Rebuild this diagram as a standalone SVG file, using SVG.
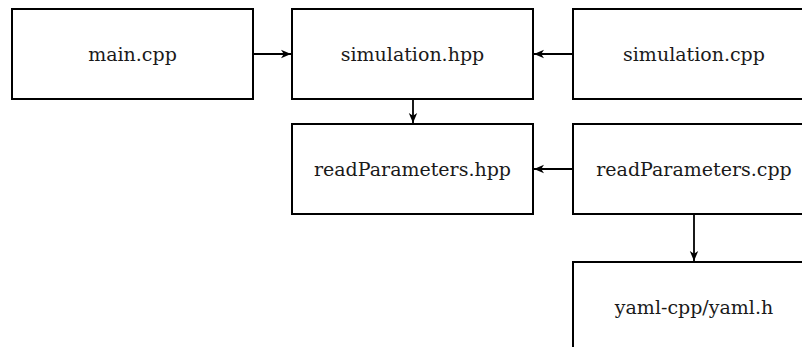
<svg xmlns="http://www.w3.org/2000/svg" width="802" height="347" viewBox="0 0 802 347">
<defs>
<style>
.box{fill:#fff;stroke:#000;stroke-width:2}
.lbl{font-family:"DejaVu Serif","Liberation Serif",serif;font-size:19px;fill:#1a1a1a;text-anchor:middle}
.edge{stroke:#000;stroke-width:1.8;fill:none;marker-end:url(#ah)}
</style>
<marker id="ah" viewBox="0 0 10 10" refX="10" refY="5" markerWidth="10" markerHeight="10" markerUnits="userSpaceOnUse" orient="auto">
<path d="M0,0.8 L10,5 L0,9.2 L2.8,5 Z" fill="#000"/>
</marker>
</defs>
<rect width="802" height="347" fill="#fff"/>
<g id="main_cpp"><rect class="box" x="12" y="9" width="241" height="90"/><text class="lbl" x="132.5" y="60.5">main.cpp</text></g>
<g id="simulation_hpp"><rect class="box" x="292" y="9" width="241" height="90"/><text class="lbl" x="412.5" y="60.5">simulation.hpp</text></g>
<g id="simulation_cpp"><rect class="box" x="573" y="9" width="242" height="90"/><text class="lbl" x="694" y="60.5">simulation.cpp</text></g>
<g id="readParameters_hpp"><rect class="box" x="292" y="124" width="241" height="90"/><text class="lbl" x="412.5" y="176">readParameters.hpp</text></g>
<g id="readParameters_cpp"><rect class="box" x="573" y="124" width="242" height="90"/><text class="lbl" x="694" y="176">readParameters.cpp</text></g>
<g id="yaml_h"><rect class="box" x="573" y="262" width="242" height="90"/><text class="lbl" x="694" y="314">yaml-cpp/yaml.h</text></g>
<g id="connectors">
<line class="edge" x1="253" y1="54" x2="291" y2="54"/>
<line class="edge" x1="573" y1="54" x2="534" y2="54"/>
<line class="edge" x1="413" y1="99" x2="413" y2="123"/>
<line class="edge" x1="573" y1="169" x2="534" y2="169"/>
<line class="edge" x1="694" y1="214" x2="694" y2="261"/>
</g>
</svg>
